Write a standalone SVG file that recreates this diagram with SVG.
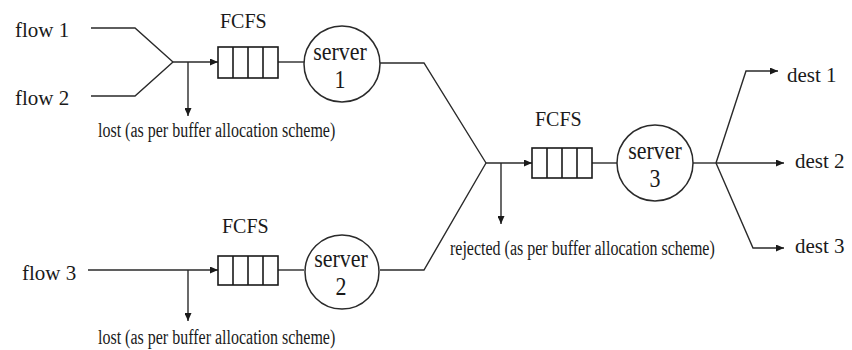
<svg xmlns="http://www.w3.org/2000/svg" width="852" height="350" viewBox="0 0 852 350">
<style>
  .ln { fill: none; stroke: #2a2a2a; stroke-width: 1.4; }
  .arr { fill: none; stroke: #2a2a2a; stroke-width: 1.4; marker-end: url(#ah); }
  .box { fill: #fff; stroke: #1a1a1a; stroke-width: 1.6; }
  .srv { fill: #fff; stroke: #2a2a2a; stroke-width: 1.5; }
  .big { font-family: "Liberation Serif", "Times New Roman", serif; font-size: 21px; fill: #1a1a1a; }
  .fc { font-family: "Liberation Serif", "Times New Roman", serif; font-size: 20px; fill: #1a1a1a; }
  .sv { font-family: "Liberation Serif", "Times New Roman", serif; font-size: 22px; fill: #1a1a1a; text-anchor: middle; }
  .sm { font-family: "Liberation Serif", "Times New Roman", serif; font-size: 16px; fill: #1a1a1a; }
</style>
<defs>
  <marker id="ah" markerWidth="9" markerHeight="7" refX="8" refY="3.5" orient="auto" markerUnits="userSpaceOnUse">
    <path d="M0,0 L8,3.5 L0,7 Z" fill="#1a1a1a"/>
  </marker>
</defs>
<rect width="852" height="350" fill="#fff"/>

<g id="connectors">
  <polyline class="ln" points="91,28 135,28 173,62"/>
  <polyline class="ln" points="91,96 135,96 173,62"/>
  <line class="arr" x1="173" y1="62" x2="218" y2="62"/>
  <line class="arr" x1="188" y1="62" x2="188" y2="116"/>
  <line class="arr" x1="88" y1="270" x2="218" y2="270"/>
  <line class="arr" x1="188" y1="270" x2="188" y2="321"/>
  <line class="ln" x1="278" y1="62" x2="304" y2="62"/>
  <line class="ln" x1="278" y1="270" x2="304" y2="270"/>
  <polyline class="ln" points="380,63 424,63 486,163"/>
  <polyline class="ln" points="380,270 424,270 486,163"/>
  <line class="arr" x1="486" y1="163" x2="532" y2="163"/>
  <line class="arr" x1="501" y1="163" x2="501" y2="224"/>
  <line class="ln" x1="592" y1="163" x2="617" y2="163"/>
  <line class="ln" x1="693" y1="163" x2="716" y2="163"/>
  <polyline class="arr" points="716,163 746,71 778,71"/>
  <line class="arr" x1="716" y1="163" x2="784" y2="163"/>
  <polyline class="arr" points="716,163 753,248 784,248"/>
</g>

<g id="flow1"><text class="big" x="15" y="37">flow 1</text></g>
<g id="flow2"><text class="big" x="15" y="105">flow 2</text></g>
<g id="flow3"><text class="big" x="22" y="280">flow 3</text></g>

<g id="queue1">
  <text class="fc" x="220" y="28">FCFS</text>
  <rect class="box" x="218" y="47" width="60" height="31"/>
  <path class="box" d="M233,47 V78 M248,47 V78 M263,47 V78"/>
</g>
<g id="queue2">
  <text class="fc" x="222" y="233">FCFS</text>
  <rect class="box" x="218" y="256" width="60" height="29"/>
  <path class="box" d="M233,256 V285 M248,256 V285 M263,256 V285"/>
</g>
<g id="queue3">
  <text class="fc" x="535" y="126">FCFS</text>
  <rect class="box" x="532" y="148" width="60" height="30"/>
  <path class="box" d="M547,148 V178 M562,148 V178 M577,148 V178"/>
</g>

<g id="server1">
  <circle class="srv" cx="342" cy="64" r="38"/>
  <text class="sv" transform="translate(340,60) scale(1,1.1)">server</text>
  <text class="sv" transform="translate(340,88) scale(1,1.1)">1</text>
</g>
<g id="server2">
  <circle class="srv" cx="342" cy="272" r="37"/>
  <text class="sv" transform="translate(341,267) scale(1,1.1)">server</text>
  <text class="sv" transform="translate(341,295) scale(1,1.1)">2</text>
</g>
<g id="server3">
  <circle class="srv" cx="655" cy="163" r="38"/>
  <text class="sv" transform="translate(655,159) scale(1,1.1)">server</text>
  <text class="sv" transform="translate(655,187) scale(1,1.1)">3</text>
</g>

<g id="lost1"><text class="sm" transform="translate(98,137) scale(1,1.35)">lost (as per buffer allocation scheme)</text></g>
<g id="lost2"><text class="sm" transform="translate(98,344) scale(1,1.35)">lost (as per buffer allocation scheme)</text></g>
<g id="rejected"><text class="sm" transform="translate(450,255) scale(1,1.35)">rejected (as per buffer allocation scheme)</text></g>

<g id="dest1"><text class="big" x="787" y="82">dest 1</text></g>
<g id="dest2"><text class="big" x="795" y="168">dest 2</text></g>
<g id="dest3"><text class="big" x="795" y="253">dest 3</text></g>
</svg>
